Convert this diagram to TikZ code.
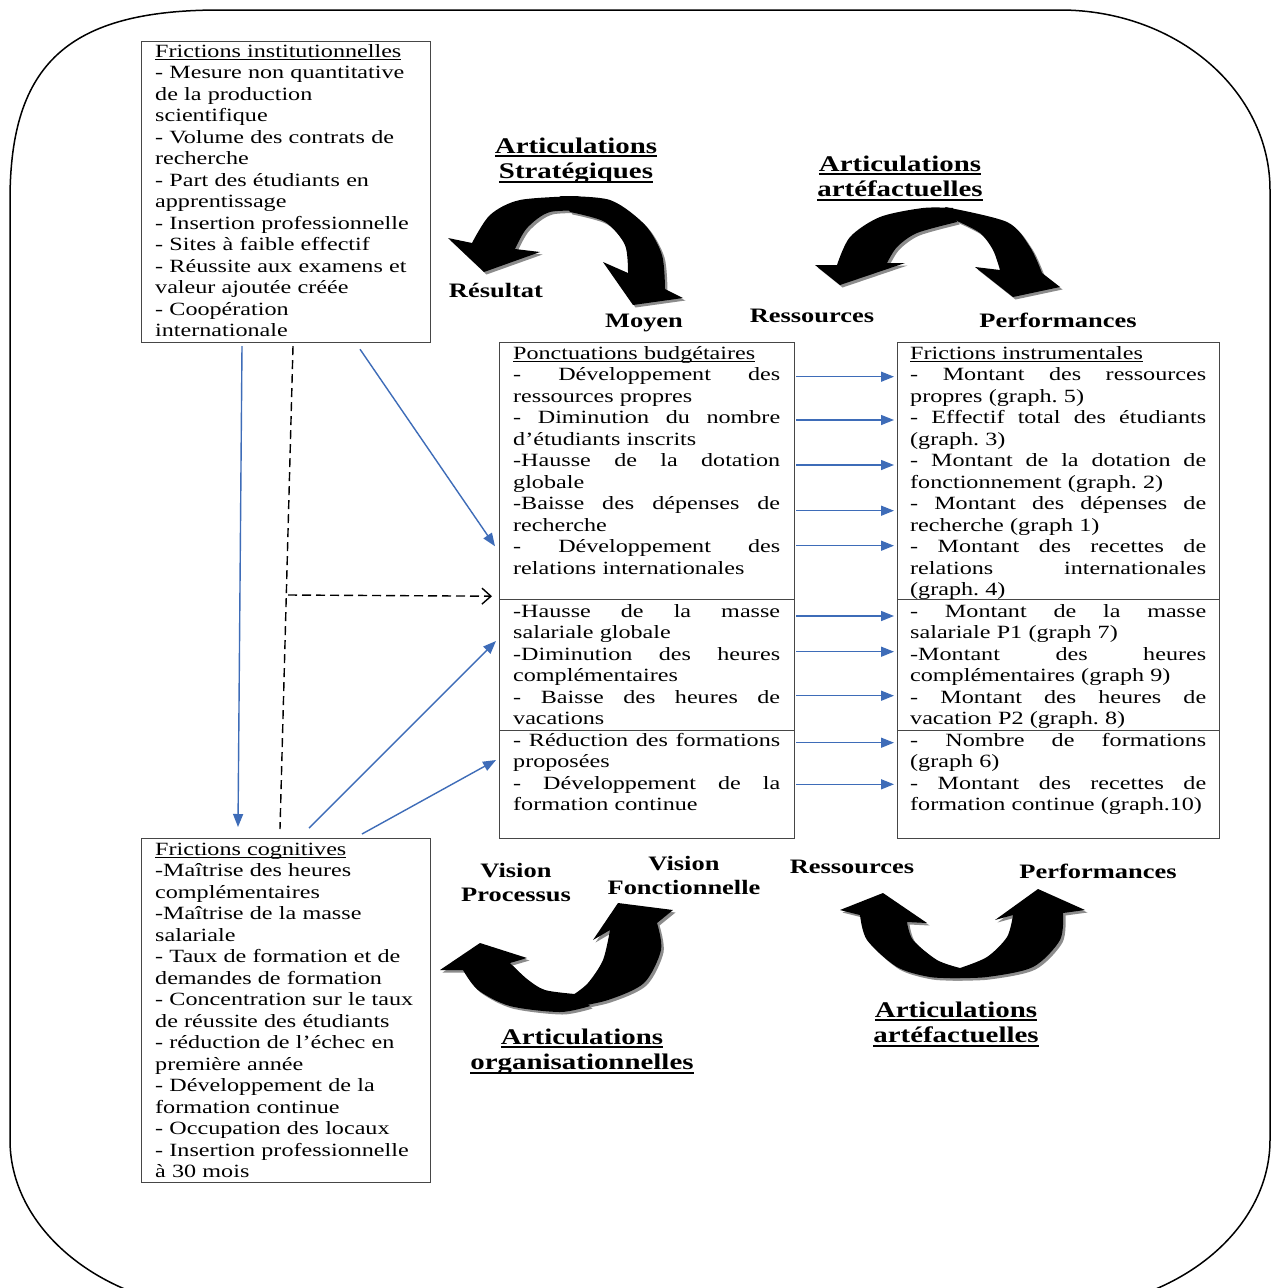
\documentclass[tikz,border=0pt]{standalone}
\usepackage{fontspec}
\setmainfont{Liberation Serif}[FakeStretch=1.29]
\usetikzlibrary{arrows.meta,calc}
\frenchspacing
\definecolor{ablue}{RGB}{62,108,184}
\definecolor{boxgray}{RGB}{70,70,70}
\newcommand\boxfont{\fontsize{18.7}{21.5}\selectfont\frenchspacing}
\newcommand\lblfont{\bfseries\fontsize{20.5}{24}\selectfont}
\newcommand\hdfont{\bfseries\fontsize{22.4}{25.5}\selectfont}
\newcommand\JM[1]{\makebox[267pt][s]{\spaceskip=0.25em plus 20em\relax #1}}
\newcommand\JR[1]{\makebox[296pt][s]{\spaceskip=0.25em plus 20em\relax #1}}
\newcommand\ulx[3]{\setbox0\hbox{#3}\leavevmode\rlap{\rule[-#1]{\wd0}{#2}}\box0}
\setlength\parindent{0pt}
% curved block arrows
\def\arrA{plot[smooth] coordinates {(472,243) (490,215) (520,200) (578,196)} -- plot[smooth] coordinates {(590,211) (550,212) (527,228) (515,249)} -- (540,252) -- (484,272) -- (448,238) -- cycle}
\def\arrB{plot[smooth] coordinates {(560,196) (610,200) (645,225) (662,255) (665,289)} -- (683,298) -- (633,305) -- (603,262) -- plot[smooth] coordinates {(628,273) (625,245) (605,222) (570,212)} -- cycle}
\def\arrC{plot[smooth] coordinates {(837,265) (850,237) (880,217) (923,208) (953,208)} -- plot[smooth] coordinates {(957,222) (917,233) (897,247) (887,263)} -- (905,263) -- (840,285) -- (815,265) -- cycle}
\def\arrD{plot[smooth] coordinates {(945,207) (1007,222) (1030,247) (1042,273)} -- (1060,287) -- (1013,297) -- (975,267) -- plot[smooth] coordinates {(1000,270) (993,250) (980,233) (957,221)} -- cycle}
\def\arrE{plot[smooth] coordinates {(463,970) (478,990) (510,1006) (560,1012) (590,1006)} -- plot[smooth] coordinates {(575,994) (545,990) (527,979) (510,963)} -- (527,958) -- (480,943) -- (440,970) -- cycle}
\def\arrF{plot[smooth] coordinates {(657,923) (661,950) (644,983) (608,1000) (570,1008)} -- plot[smooth] coordinates {(573,995) (588,983) (603,960) (610,930)} -- (593,940) -- (618,903) -- (673,910) -- cycle}
\def\arrG{plot[smooth] coordinates {(860,915) (867,940) (897,967) (930,977) (960,978)} -- plot[smooth] coordinates {(960,968) (937,960) (913,940) (907,922)} -- (927,923) -- (883,893) -- (840,910) -- cycle}
\def\arrH{plot[smooth] coordinates {(1063,913) (1060,940) (1033,967) (987,977) (950,978)} -- plot[smooth] coordinates {(960,968) (987,957) (1007,937) (1013,915)} -- (995,920) -- (1038,889) -- (1085,910) -- cycle}
\begin{document}
\begin{tikzpicture}[x=1pt,y=-1pt,
  boxnode/.style={draw=boxgray,line width=1.2pt,inner sep=0pt,anchor=north west},
  txt/.style={anchor=north west,inner sep=0pt,align=left,font=\boxfont,text width=#1},
  hd/.style={font=\hdfont,align=center,inner sep=0pt,anchor=north},
  lbl/.style={font=\lblfont,inner sep=0pt,anchor=base},
  lbl2/.style={font=\lblfont,align=center,inner sep=0pt,anchor=north},
  barrow/.style={draw=ablue,line width=1.4pt,-{Triangle[length=13pt,width=10pt]}},
  dline/.style={draw=black,line width=1.4pt,dash pattern=on 9pt off 5pt},
  darrow/.style={dline,-{Straight Barb[length=9pt,width=16pt]}},
  shadowfill/.style={fill=black!45}]
\useasboundingbox (0,0) rectangle (1272,1288);
\clip (0,0) rectangle (1272,1288);
\fill[white] (0,0) rectangle (1272,1288);

% outer frame
\draw[line width=1.5pt] (10,200) .. controls (10,63) and (69,10) .. (220,10) -- (1060,10) .. controls (1177,10) and (1270,91) .. (1270,190) -- (1270,1140) .. controls (1270,1233) and (1172,1310) .. (1050,1310) -- (230,1310) .. controls (109,1310) and (10,1233) .. (10,1140) -- cycle;

% boxes
\node[boxnode,minimum width=289pt,minimum height=301pt] (inst) at (141,41) {};
\node[boxnode,minimum width=289pt,minimum height=344pt] (cogn) at (141,838) {};
\node[boxnode,minimum width=295pt,minimum height=257pt] (mid1) at (499,342) {};
\node[boxnode,minimum width=295pt,minimum height=131pt] (mid2) at (499,599) {};
\node[boxnode,minimum width=295pt,minimum height=108pt] (mid3) at (499,730) {};
\node[boxnode,minimum width=322pt,minimum height=257pt] (ins1) at (897,342) {};
\node[boxnode,minimum width=322pt,minimum height=131pt] (ins2) at (897,599) {};
\node[boxnode,minimum width=322pt,minimum height=108pt] (ins3) at (897,730) {};

% box texts
\node[txt=275pt] (tinst) at (155,42) {\strut\ulx{3pt}{1pt}{Frictions institutionnelles}\\
- Mesure non quantitative\\
de la production\\
scientifique\\
- Volume des contrats de\\
recherche\\
- Part des étudiants en\\
apprentissage\\
- Insertion professionnelle\\
- Sites à faible effectif\\
- Réussite aux examens et\\
valeur ajoutée créée\\
- Coopération\\
internationale};

\node[txt=275pt] (tcogn) at (155,840) {\strut\ulx{3pt}{1pt}{Frictions cognitives}\\
-Maîtrise des heures\\
complémentaires\\
-Maîtrise de la masse\\
salariale\\
- Taux de formation et de\\
demandes de formation\\
- Concentration sur le taux\\
de réussite des étudiants\\
- réduction de l’échec en\\
première année\\
- Développement de la\\
formation continue\\
- Occupation des locaux\\
- Insertion professionnelle\\
à 30 mois};

\node[txt=267pt] (tmid1) at (513,344) {\strut\ulx{3pt}{1pt}{Ponctuations budgétaires}\\
\JM{- Développement des}\\
ressources propres\\
\JM{- Diminution du nombre}\\
d’étudiants inscrits\\
\JM{-Hausse de la dotation}\\
globale\\
\JM{-Baisse des dépenses de}\\
recherche\\
\JM{- Développement des}\\
relations internationales};

\node[txt=267pt] (tmid2) at (513,602) {\strut\JM{-Hausse de la masse}\\
salariale globale\\
\JM{-Diminution des heures}\\
complémentaires\\
\JM{- Baisse des heures de}\\
vacations};

\node[txt=267pt] (tmid3) at (513,731) {\strut\JM{- Réduction des formations}\\
proposées\\
\JM{- Développement de la}\\
formation continue};

\node[txt=296pt] (tins1) at (910,344) {\strut\ulx{3pt}{1pt}{Frictions instrumentales}\\
\JR{- Montant des ressources}\\
propres (graph. 5)\\
\JR{- Effectif total des étudiants}\\
(graph. 3)\\
\JR{- Montant de la dotation de}\\
fonctionnement (graph. 2)\\
\JR{- Montant des dépenses de}\\
recherche (graph 1)\\
\JR{- Montant des recettes de}\\
\JR{relations internationales}\\
(graph. 4)};

\node[txt=296pt] (tins2) at (910,602) {\strut\JR{- Montant de la masse}\\
salariale P1 (graph 7)\\
\JR{-Montant des heures}\\
complémentaires (graph 9)\\
\JR{- Montant des heures de}\\
vacation P2 (graph. 8)};

\node[txt=296pt] (tins3) at (910,731) {\strut\JR{- Nombre de formations}\\
(graph 6)\\
\JR{- Montant des recettes de}\\
formation continue (graph.10)};

% connectors
\draw[barrow] ($(inst.south west)+(101,3)$) -- ($(cogn.north west)+(97,-11)$);
\draw[dline] ($(inst.south west)+(152,3)$) -- ($(cogn.north west)+(139,-9)$);
\coordinate (dj) at (288,595);
\draw[darrow] (dj) -- ($(mid1.south west)+(-7,-4)$);
\draw[barrow] ($(inst.south west)+(219,6)$) -- ($(mid1.south west)+(-4,-54)$);
\draw[barrow] ($(cogn.north west)+(168,-10)$) -- ($(mid2.north west)+(-3,42)$);
\draw[barrow] ($(cogn.north west)+(221,-4)$) -- ($(mid3.north west)+(-3,30)$);

\foreach \y/\a/\b in {376.7/mid1/ins1, 420/mid1/ins1, 465/mid1/ins1, 510.7/mid1/ins1, 545.7/mid1/ins1,
                      616/mid2/ins2, 651.7/mid2/ins2, 695.7/mid2/ins2, 742.7/mid3/ins3, 784.3/mid3/ins3}{
  \coordinate (hrow) at (0,\y);
  \draw[barrow,shorten <=1pt,shorten >=3pt] (\a.east |- hrow) -- (\b.west |- hrow);
}

% curved block arrows: shadows then fills
\begin{scope}[transform canvas={xshift=2.5pt,yshift=-2.5pt}]
\fill[shadowfill] \arrA; \fill[shadowfill] \arrB;
\fill[shadowfill] \arrC; \fill[shadowfill] \arrD;
\fill[shadowfill] \arrE; \fill[shadowfill] \arrF;
\fill[shadowfill] \arrG; \fill[shadowfill] \arrH;
\end{scope}
\fill \arrA; \fill \arrB; \fill \arrC; \fill \arrD;
\fill \arrE; \fill \arrF; \fill \arrG; \fill \arrH;

% headings
\node[hd] (h1) at (576,135) {\strut\ulx{4pt}{1.6pt}{Articulations}\\\ulx{4pt}{1.6pt}{Stratégiques}};
\node[hd] (h2) at (900,153) {\strut\ulx{4pt}{1.6pt}{Articulations}\\\ulx{4pt}{1.6pt}{artéfactuelles}};
\node[hd] (h3) at (956,999) {\strut\ulx{4pt}{1.6pt}{Articulations}\\\ulx{4pt}{1.6pt}{artéfactuelles}};
\node[hd] (h4) at (582,1026) {\strut\ulx{4pt}{1.6pt}{Articulations}\\\ulx{4pt}{1.6pt}{organisationnelles}};

% labels
\node[lbl] (res) at (496,297) {Résultat};
\node[lbl] (moy) at (644,327) {Moyen};
\node[lbl] (ress1) at (812,322) {Ressources};
\node[lbl] (perf1) at (1058,327) {Performances};
\node[lbl2] (vproc) at (516,860) {\strut Vision\\Processus};
\node[lbl2] (vfonc) at (684,853) {\strut Vision\\Fonctionnelle};
\node[lbl] (ress2) at (852,873) {Ressources};
\node[lbl] (perf2) at (1098,878) {Performances};
\end{tikzpicture}
\end{document}
